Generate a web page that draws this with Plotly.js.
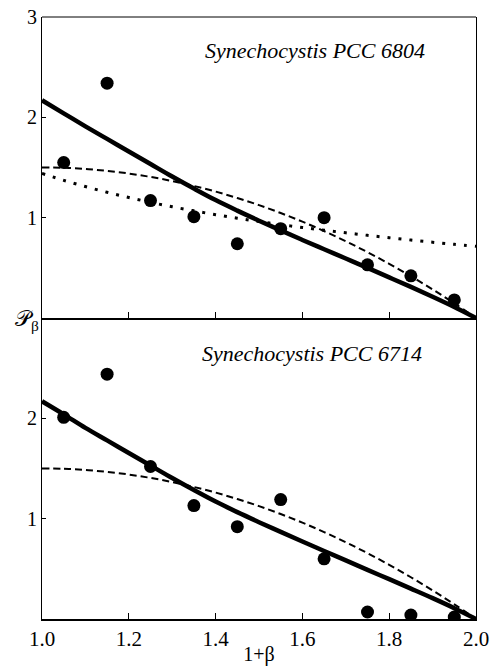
<!DOCTYPE html>
<html>
<head>
<meta charset="utf-8">
<script src="https://cdn.plot.ly/plotly-3.0.1.min.js"></script>
<style>html,body{margin:0;padding:0;background:#fff;}#chart{width:494px;height:666px;}</style>
</head>
<body>
<div id="chart"></div>
<script>
// measured points (1+beta)
var pointX = [1.05, 1.15, 1.25, 1.35, 1.45, 1.55, 1.65, 1.75, 1.85, 1.95];
var points6804 = [1.55, 2.34, 1.17, 1.01, 0.74, 0.89, 1.00, 0.53, 0.42, 0.18];
var points6714 = [2.01, 2.44, 1.52, 1.13, 0.92, 1.19, 0.60, 0.07, 0.04, 0.02];

// fitted curves
var curveX = [1.0, 1.05, 1.1, 1.15, 1.2, 1.25, 1.3, 1.35, 1.4, 1.45, 1.5, 1.55, 1.6, 1.65, 1.7, 1.75, 1.8, 1.85, 1.9, 1.95, 2.0];
var solid6804 = [2.17, 2.04, 1.91, 1.785, 1.66, 1.535, 1.41, 1.29, 1.175, 1.07, 0.97, 0.873, 0.778, 0.685, 0.593, 0.50, 0.405, 0.31, 0.212, 0.11, 0.0];
var dashed6804 = [1.50, 1.497, 1.485, 1.466, 1.44, 1.406, 1.365, 1.316, 1.26, 1.196, 1.125, 1.046, 0.96, 0.866, 0.765, 0.656, 0.54, 0.416, 0.285, 0.146, 0.0];
var dotted6804 = [1.44, 1.372, 1.31, 1.253, 1.201, 1.153, 1.109, 1.068, 1.03, 0.995, 0.962, 0.931, 0.902, 0.875, 0.849, 0.824, 0.80, 0.777, 0.755, 0.734, 0.714];
var solid6714 = [2.17, 2.04, 1.905, 1.78, 1.655, 1.53, 1.405, 1.285, 1.17, 1.065, 0.965, 0.868, 0.772, 0.678, 0.585, 0.49, 0.397, 0.303, 0.208, 0.108, 0.0];
var dashed6714 = [1.50, 1.497, 1.485, 1.466, 1.44, 1.406, 1.365, 1.316, 1.26, 1.196, 1.125, 1.046, 0.96, 0.866, 0.765, 0.656, 0.54, 0.416, 0.285, 0.146, 0.0];

var xTickVals = [1.0, 1.2, 1.4, 1.6, 1.8, 2.0];
var xTickText = ["1.0", "1.2", "1.4", "1.6", "1.8", "2.0"];
var yTickTop = [1, 2, 3];
var yTickBottom = [1, 2];
var label6804 = "Synechocystis PCC 6804";
var label6714 = "Synechocystis PCC 6714";

var serif = "Liberation Serif";
var black = "#000";

var traces = [
  {x: curveX, y: solid6804, xaxis: 'x', yaxis: 'y', mode: 'lines', line: {color: black, width: 4.5, shape: 'spline'}, hoverinfo: 'skip'},
  {x: curveX, y: dashed6804, xaxis: 'x', yaxis: 'y', mode: 'lines', line: {color: black, width: 2, dash: '7px,4px', shape: 'spline'}, hoverinfo: 'skip'},
  {x: curveX, y: dotted6804, xaxis: 'x', yaxis: 'y', mode: 'lines', line: {color: black, width: 3, dash: '3px,8px', shape: 'spline'}, hoverinfo: 'skip'},
  {x: pointX, y: points6804, xaxis: 'x', yaxis: 'y', mode: 'markers', marker: {color: black, size: 13}},
  {x: curveX, y: solid6714, xaxis: 'x2', yaxis: 'y2', mode: 'lines', line: {color: black, width: 4.5, shape: 'spline'}, hoverinfo: 'skip'},
  {x: curveX, y: dashed6714, xaxis: 'x2', yaxis: 'y2', mode: 'lines', line: {color: black, width: 2, dash: '7px,4px', shape: 'spline'}, hoverinfo: 'skip'},
  {x: pointX, y: points6714, xaxis: 'x2', yaxis: 'y2', mode: 'markers', marker: {color: black, size: 13}}
];

var layout = {
  width: 494, height: 666,
  margin: {l: 42, r: 18, t: 17, b: 47, pad: 0},
  paper_bgcolor: '#fff', plot_bgcolor: '#fff',
  showlegend: false,
  font: {family: serif, color: black, size: 20},
  xaxis: {
    domain: [0, 1], anchor: 'y', range: [1.0, 2.0],
    showgrid: false, zeroline: false, showline: true, linecolor: black, linewidth: 2,
    ticks: 'inside', ticklen: 6, tickwidth: 1, tickcolor: black,
    tickvals: [1.2, 1.4, 1.6, 1.8], showticklabels: false
  },
  yaxis: {
    domain: [0.5, 1], anchor: 'x', range: [0, 3],
    showgrid: false, zeroline: false, showline: true, linecolor: black, linewidth: 1, mirror: true,
    ticks: 'inside', ticklen: 4, tickwidth: 1, tickcolor: black,
    tickvals: yTickTop, ticktext: yTickTop.map(String), tickfont: {family: serif, size: 20}
  },
  xaxis2: {
    domain: [0, 1], anchor: 'y2', range: [1.0, 2.0],
    showgrid: false, zeroline: false, showline: true, linecolor: black, linewidth: 2,
    ticks: 'inside', ticklen: 6, tickwidth: 1, tickcolor: black,
    tickvals: xTickVals, ticktext: xTickText, tickfont: {family: serif, size: 21},
    title: {text: '1+β', font: {family: serif, size: 20}, standoff: 2}
  },
  yaxis2: {
    domain: [0, 0.5], anchor: 'x2', range: [0, 3],
    showgrid: false, zeroline: false, showline: true, linecolor: black, linewidth: 1, mirror: true,
    ticks: 'inside', ticklen: 4, tickwidth: 1, tickcolor: black,
    tickvals: yTickBottom, ticktext: yTickBottom.map(String), tickfont: {family: serif, size: 20}
  },
  shapes: [
    {type: 'line', xref: 'paper', yref: 'paper', x0: 0, x1: 1, y0: 1, y1: 1, line: {color: black, width: 1}}
  ],
  annotations: [
    {xref: 'x', yref: 'y', x: 1.63, y: 2.67, text: label6804, showarrow: false, xanchor: 'center', yanchor: 'middle', font: {family: serif, size: 22, style: 'italic'}},
    {xref: 'x2', yref: 'y2', x: 1.623, y: 2.65, text: label6714, showarrow: false, xanchor: 'center', yanchor: 'middle', font: {family: serif, size: 22, style: 'italic'}},
    {xref: 'paper', yref: 'paper', x: -0.035, y: 0.497, text: '𝒫<sub>β</sub>', showarrow: false, xanchor: 'center', yanchor: 'middle', font: {family: serif, size: 22}}
  ]
};

Plotly.newPlot('chart', traces, layout, {staticPlot: true, displayModeBar: false});
</script>
</body>
</html>
